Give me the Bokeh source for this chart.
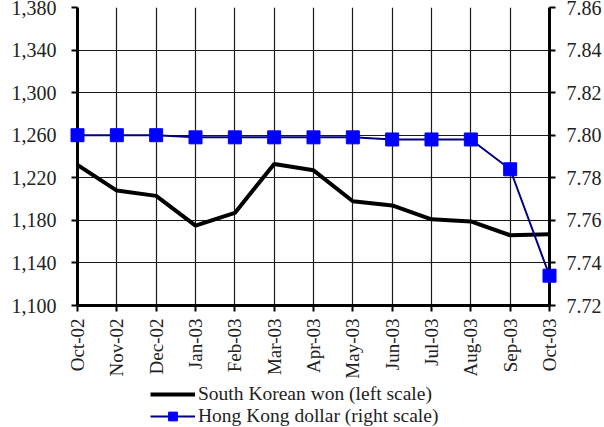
import math
from bokeh.plotting import figure
from bokeh.layouts import column
from bokeh.models import (Range1d, LinearAxis, FixedTicker, NumeralTickFormatter,
                          Legend, LegendItem, ColumnDataSource)
from bokeh.embed import file_html
from bokeh.resources import INLINE

months = ["Oct-02", "Nov-02", "Dec-02", "Jan-03", "Feb-03", "Mar-03", "Apr-03",
          "May-03", "Jun-03", "Jul-03", "Aug-03", "Sep-03", "Oct-03"]
won = [1232, 1208, 1203, 1175, 1187, 1233, 1227, 1198, 1194, 1181, 1179, 1166, 1167]
hkd = [7.800, 7.800, 7.800, 7.799, 7.799, 7.799, 7.799, 7.799, 7.798, 7.798, 7.798, 7.784, 7.734]
left_ticks = [1100, 1140, 1180, 1220, 1260, 1300, 1340, 1380]
right_ticks = [7.72, 7.74, 7.76, 7.78, 7.80, 7.82, 7.84, 7.86]
labels = ["South Korean won (left scale)", "Hong Kong dollar (right scale)"]

FONT = "Liberation Serif"
WON_STYLE = dict(line_color="black", line_width=4)
HK_LINE = dict(line_color="#000080", line_width=2)
HK_PTS = dict(marker="square", size=13, fill_color="#0000FF", line_color="#0000FF")

xs = list(range(len(months)))
src = ColumnDataSource(dict(x=xs, won=won, hkd=hkd))

p = figure(frame_width=472, frame_height=298, output_backend="svg", toolbar_location=None,
           x_range=Range1d(0, len(months) - 1), y_range=Range1d(1100, 1380),
           min_border_top=7, min_border_left=77, min_border_right=55, min_border_bottom=78)
p.extra_y_ranges = {"hk": Range1d(7.72, 7.86)}
p.outline_line_color = None

p.xaxis.ticker = FixedTicker(ticks=xs)
p.xaxis.major_label_overrides = {i: m for i, m in enumerate(months)}
p.xaxis.major_label_orientation = math.pi / 2
p.yaxis.ticker = FixedTicker(ticks=left_ticks)
p.yaxis.formatter = NumeralTickFormatter(format="0,0")

ry = LinearAxis(y_range_name="hk", ticker=FixedTicker(ticks=right_ticks),
                formatter=NumeralTickFormatter(format="0.00"))
p.add_layout(ry, "right")

for ax in [p.xaxis[0], p.yaxis[0], ry]:
    ax.axis_line_width = 3
    ax.axis_line_color = "black"
    ax.major_tick_line_width = 2
    ax.major_tick_line_color = "black"
    ax.major_tick_out = 6
    ax.major_tick_in = 0
    ax.minor_tick_line_color = None
    ax.major_label_text_font = FONT
    ax.major_label_text_color = "#222222"
p.yaxis.major_label_text_font_size = "20px"
ry.major_label_text_font_size = "20px"
p.xaxis.major_label_text_font_size = "19px"
p.yaxis.major_label_standoff = 15
ry.major_label_standoff = 11
p.xaxis.major_label_standoff = 7

p.xgrid.ticker = FixedTicker(ticks=xs[1:-1])
p.ygrid.ticker = FixedTicker(ticks=left_ticks[1:-1])
for g in [p.xgrid[0], p.ygrid[0]]:
    g.grid_line_color = "#1a1a1a"
    g.grid_line_width = 1.2

p.line("x", "won", source=src, **WON_STYLE)
p.line("x", "hkd", source=src, y_range_name="hk", **HK_LINE)
p.scatter("x", "hkd", source=src, y_range_name="hk", level="overlay", **HK_PTS)

# legend panel below the chart (its glyphs use the same data, kept outside its view)
lf = figure(width=604, height=44, output_backend="svg", toolbar_location=None,
            x_range=Range1d(0, 1), y_range=Range1d(0, 1),
            min_border_left=0, min_border_right=0, min_border_top=0, min_border_bottom=0,
            x_axis_type=None, y_axis_type=None)
lf.outline_line_color = None
lf.grid.visible = False
l1 = lf.line("x", "won", source=src, **WON_STYLE)
l2 = lf.line("x", "hkd", source=src, **HK_LINE)
l3 = lf.scatter("x", "hkd", source=src, **HK_PTS)
legend = Legend(items=[LegendItem(label=labels[0], renderers=[l1]),
                       LegendItem(label=labels[1], renderers=[l2, l3])],
                orientation="vertical", location=(73, 0))
legend.label_text_font = FONT
legend.label_text_font_size = "19.5px"
legend.label_text_color = "#222222"
legend.border_line_color = None
legend.background_fill_alpha = 0
legend.glyph_width = 45
legend.glyph_height = 22
legend.label_height = 22
legend.label_standoff = 3
legend.spacing = 0
legend.padding = 0
legend.margin = 0
lf.add_layout(legend, "center")

layout = column(p, lf, spacing=0)
open("out.html", "w").write(file_html(layout, INLINE))
